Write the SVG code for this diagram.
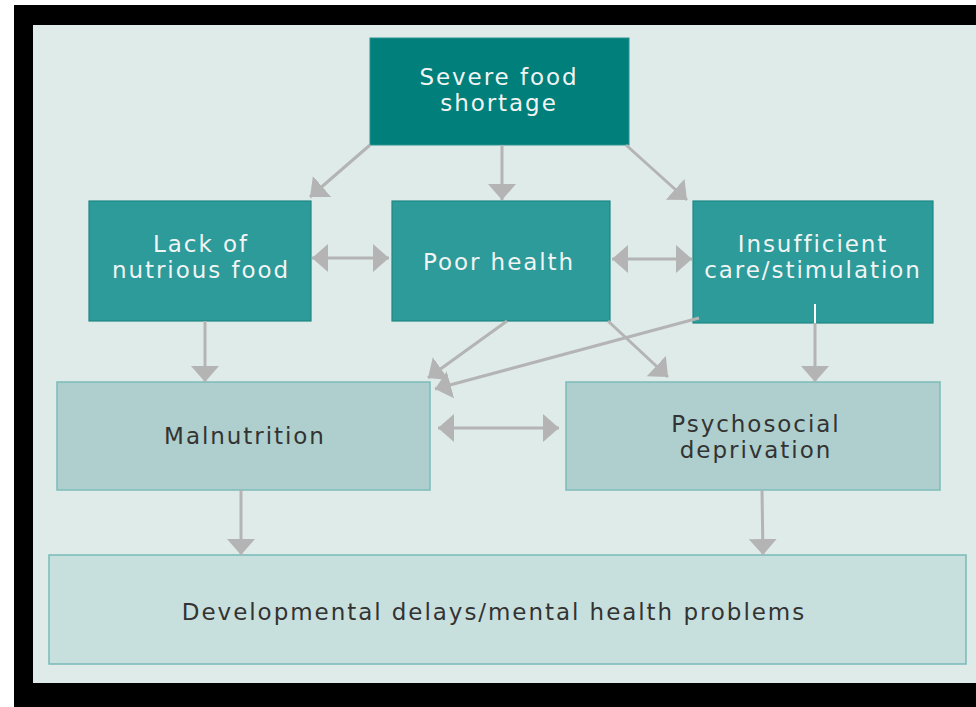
<svg xmlns="http://www.w3.org/2000/svg" width="976" height="707" viewBox="0 0 976 707">
<style>
.txt{font-family:"DejaVu Sans","Liberation Sans",sans-serif;font-size:23px;letter-spacing:1.95px;text-anchor:middle}
.lt{fill:#f2f4f4}
.dk{fill:#333}
.dark{fill:#007f7b;stroke:#2a9490;stroke-width:1}
.mid{fill:#2c9b9a;stroke:#1f8886;stroke-width:1.2}
.light{fill:#aecfcd;stroke:#7cbcb9;stroke-width:1.5}
.pale{fill:#c8e0dd;stroke:#78bab8;stroke-width:1.5}
.con{stroke:#b4b4b4;stroke-width:3;fill:none}
</style>
<defs>
<marker id="ah" markerUnits="userSpaceOnUse" markerWidth="18" markerHeight="28" refX="16" refY="14" orient="auto-start-reverse" viewBox="0 0 18 28">
<path d="M0,0 L16,14 L0,28 Z" fill="#b4b4b4"/>
</marker>
</defs>
<rect x="0" y="0" width="976" height="707" fill="#ffffff"/>
<rect x="14" y="5" width="962" height="702" fill="#000"/>
<rect x="33" y="25" width="943" height="658" fill="#dfebe9"/>

<g id="n1"><rect class="dark" x="370" y="38" width="259" height="107"/>
<text class="txt lt" x="499" y="85">Severe food</text><text class="txt lt" x="499" y="111">shortage</text></g>
<g id="n2"><rect class="mid" x="89" y="201" width="222" height="120"/>
<text class="txt lt" x="201" y="252">Lack of</text><text class="txt lt" x="201" y="278">nutrious food</text></g>
<g id="n3"><rect class="mid" x="392" y="201" width="218" height="120"/>
<text class="txt lt" x="499" y="270">Poor health</text></g>
<g id="n4"><rect class="mid" x="693" y="201" width="240" height="122"/>
<text class="txt lt" x="813" y="252">Insufficient</text><text class="txt lt" x="813" y="278">care/stimulation</text></g>
<g id="n5"><rect class="light" x="57" y="382" width="373" height="108"/>
<text class="txt dk" x="245" y="444">Malnutrition</text></g>
<g id="n6"><rect class="light" x="566" y="382" width="374" height="108"/>
<text class="txt dk" x="756" y="432">Psychosocial</text><text class="txt dk" x="756" y="458">deprivation</text></g>
<g id="n7"><rect class="pale" x="49" y="555" width="917" height="109"/>
<text class="txt dk" x="494" y="620">Developmental delays/mental health problems</text></g>

<g id="connectors">
<line class="con" x1="370" y1="145" x2="310" y2="197" marker-end="url(#ah)"/>
<line class="con" x1="502" y1="145" x2="502" y2="200" marker-end="url(#ah)"/>
<line class="con" x1="626" y1="145" x2="687" y2="200" marker-end="url(#ah)"/>
<line class="con" x1="312" y1="258" x2="389" y2="258" marker-start="url(#ah)" marker-end="url(#ah)"/>
<line class="con" x1="612" y1="259" x2="692" y2="259" marker-start="url(#ah)" marker-end="url(#ah)"/>
<line class="con" x1="205" y1="321" x2="205" y2="382" marker-end="url(#ah)"/>
<line class="con" x1="507" y1="321" x2="428" y2="378" marker-end="url(#ah)"/>
<line class="con" x1="699" y1="318" x2="435" y2="389" marker-end="url(#ah)"/>
<line class="con" x1="608" y1="321" x2="668" y2="377" marker-end="url(#ah)"/>
<line class="con" x1="815" y1="323" x2="815" y2="382" marker-end="url(#ah)"/>
<line stroke="#ffffff" stroke-width="2" x1="815" y1="304" x2="815" y2="323"/>
<line class="con" x1="438" y1="428" x2="559" y2="428" marker-start="url(#ah)" marker-end="url(#ah)"/>
<line class="con" x1="241" y1="490" x2="241" y2="555" marker-end="url(#ah)"/>
<line class="con" x1="762" y1="490" x2="763" y2="555" marker-end="url(#ah)"/>
</g>
</svg>
